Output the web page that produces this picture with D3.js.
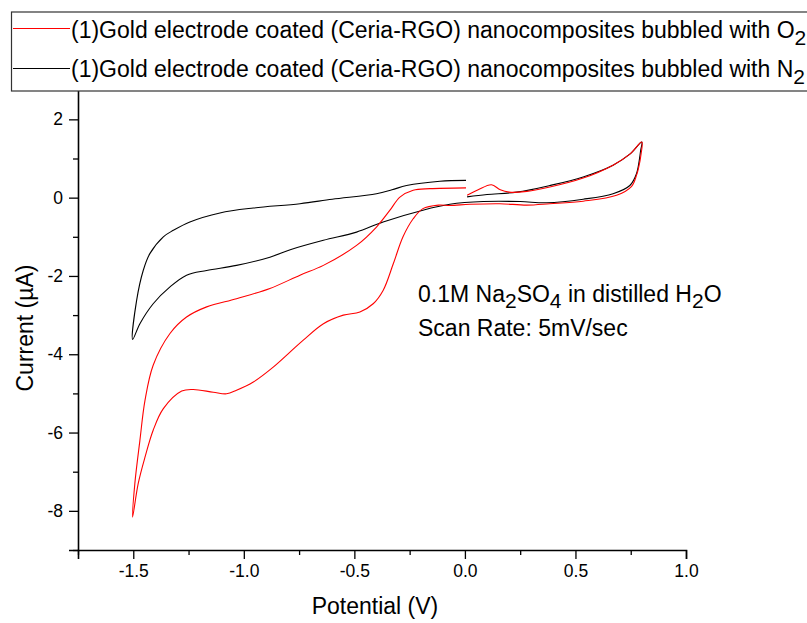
<!DOCTYPE html>
<html>
<head>
<meta charset="utf-8">
<script src="https://cdn.jsdelivr.net/npm/d3@7"></script>
<style>
  html, body { margin: 0; padding: 0; background: #fff; }
  svg { display: block; font-family: "Liberation Sans", Arial, sans-serif; }
</style>
</head>
<body>
<svg id="chart" width="807" height="623"></svg>
<script>
// Cyclic voltammograms, Ceria-RGO coated gold electrode, scan order from ~0 V
// Series bubbled with O2
const o2Potential = [0.01, 0.06, 0.12, 0.16, 0.20, 0.28, 0.384, 0.535, 0.67, 0.746, 0.80,
  0.797, 0.785, 0.776, 0.754, 0.686, 0.535, 0.384, 0.28, 0.158, 0.023, -0.068, -0.12,
  -0.19, -0.234, -0.28, -0.324, -0.37, -0.415, -0.475, -0.55, -0.64, -0.731, -0.79,
  -0.867, -0.957, -1.033, -1.078, -1.138, -1.229, -1.281, -1.364, -1.41, -1.447, -1.478, -1.503,
  -1.493, -1.47, -1.447, -1.41, -1.334, -1.259, -1.168, -1.033, -0.882, -0.746, -0.64,
  -0.49, -0.4, -0.339, -0.294, -0.234, -0.158, 0.005];
const o2Current = [0.06, 0.20, 0.33, 0.20, 0.14, 0.16, 0.27, 0.50, 0.83, 1.11, 1.42,
  1.12, 0.75, 0.57, 0.29, 0.06, -0.09, -0.155, -0.19, -0.155, -0.17, -0.2, -0.19,
  -0.28, -0.54, -1.0, -1.69, -2.37, -2.71, -2.92, -3.0, -3.22, -3.64, -3.94,
  -4.33, -4.71, -4.92, -5.01, -4.97, -4.90, -4.94, -5.39, -5.94, -6.63, -7.31, -8.16,
  -7.31, -6.2, -5.18, -4.28, -3.47, -3.05, -2.79, -2.58, -2.32, -1.98, -1.73,
  -1.22, -0.75, -0.32, 0.015, 0.19, 0.23, 0.25];

// Series bubbled with N2
const n2Potential = [0.01, 0.10, 0.234, 0.384, 0.535, 0.67, 0.746, 0.80,
  0.795, 0.776, 0.746, 0.67, 0.535, 0.37, 0.25, 0.083, -0.068, -0.19, -0.37, -0.49,
  -0.64, -0.79, -0.882, -1.033, -1.168, -1.259, -1.334, -1.41, -1.47, -1.503,
  -1.485, -1.455, -1.425, -1.364, -1.319, -1.244, -1.108, -0.957, -0.746, -0.6,
  -0.4, -0.33, -0.264, -0.113, 0.005];
const n2Current = [0.02, 0.08, 0.14, 0.31, 0.53, 0.83, 1.11, 1.42,
  1.21, 0.61, 0.31, 0.10, -0.04, -0.13, -0.10, -0.10, -0.17, -0.32, -0.62, -0.88,
  -1.09, -1.33, -1.52, -1.73, -1.86, -1.98, -2.28, -2.71, -3.22, -3.62,
  -2.63, -1.86, -1.43, -1.0, -0.835, -0.62, -0.39, -0.265, -0.155, -0.04,
  0.10, 0.20, 0.31, 0.42, 0.44];

const xMajorTicks = [-1.5, -1.0, -0.5, 0.0, 0.5, 1.0];
const xMinorTicks = [-1.75, -1.25, -0.75, -0.25, 0.25, 0.75];
const yMajorTicks = [-8, -6, -4, -2, 0, 2];
const yMinorTicks = [-9, -7, -5, -3, -1, 1, 3];

const seriesNames = ["(1)Gold electrode coated (Ceria-RGO) nanocomposites bubbled with O",
                     "(1)Gold electrode coated (Ceria-RGO) nanocomposites bubbled with N"];
const seriesSubs = ["2", "2"];
const seriesColors = ["#ff0000", "#000000"];

const svg = d3.select("#chart");

const x = d3.scaleLinear().domain([-1.75, 1.0]).range([78, 686]);
const y = d3.scaleLinear().domain([-9, 3]).range([550, 80.2]);

// Axes
const axisG = svg.append("g");
const xAxis = axisG.append("g").attr("transform", "translate(0,550)")
  .call(d3.axisBottom(x).tickValues(xMajorTicks).tickSize(9).tickPadding(6)
        .tickFormat(d => d.toFixed(1)));
const xMinor = axisG.append("g").attr("transform", "translate(0,550)")
  .call(d3.axisBottom(x).tickValues(xMinorTicks).tickSize(5).tickFormat(""));
const yAxis = axisG.append("g").attr("transform", "translate(78,0)")
  .call(d3.axisLeft(y).tickValues(yMajorTicks).tickSize(9).tickPadding(6)
        .tickFormat(d => String(d)));
const yMinor = axisG.append("g").attr("transform", "translate(78,0)")
  .call(d3.axisLeft(y).tickValues(yMinorTicks).tickSize(5).tickFormat(""));

axisG.selectAll(".domain").attr("stroke", "#000").attr("stroke-width", 1.6);
axisG.selectAll(".tick line").attr("stroke", "#000").attr("stroke-width", 1.3);
axisG.selectAll(".tick text").attr("font-size", 17.5).attr("fill", "#000")
  .attr("font-family", "Liberation Sans, Arial, sans-serif");
xMinor.select(".domain").remove();
yMinor.select(".domain").remove();

// Axis titles
svg.append("text")
  .attr("x", 375).attr("y", 614)
  .attr("text-anchor", "middle")
  .attr("font-size", 23)
  .text("Potential (V)");
svg.append("text")
  .attr("transform", "translate(33,328) rotate(-90)")
  .attr("text-anchor", "middle")
  .attr("font-size", 23)
  .text("Current (µA)");

// Curves
const line = d3.line()
  .x(d => x(d[0]))
  .y(d => y(d[1]))
  .curve(d3.curveCatmullRom.alpha(0.5));

const o2Data = o2Potential.map((v, i) => [v, o2Current[i]]);
const n2Data = n2Potential.map((v, i) => [v, n2Current[i]]);

svg.append("path").datum(n2Data)
  .attr("d", line).attr("fill", "none")
  .attr("stroke", seriesColors[1]).attr("stroke-width", 1.1);
svg.append("path").datum(o2Data)
  .attr("d", line).attr("fill", "none")
  .attr("stroke", seriesColors[0]).attr("stroke-width", 1.1);

// Annotation
const note = svg.append("g").attr("font-size", 23).attr("fill", "#000");
const t1 = note.append("text").attr("x", 418).attr("y", 302);
t1.append("tspan").text("0.1M Na");
t1.append("tspan").attr("dy", 6).attr("font-size", 21).text("2");
t1.append("tspan").attr("dy", -6).text("SO");
t1.append("tspan").attr("dy", 6).attr("font-size", 21).text("4");
t1.append("tspan").attr("dy", -6).text(" in distilled H");
t1.append("tspan").attr("dy", 6).attr("font-size", 21).text("2");
t1.append("tspan").attr("dy", -6).text("O");
note.append("text").attr("x", 418).attr("y", 336).text("Scan Rate: 5mV/sec");

// Legend
const legend = svg.append("g");
legend.append("rect")
  .attr("x", 11.5).attr("y", 12).attr("width", 830).attr("height", 79)
  .attr("fill", "#fff").attr("stroke", "#333").attr("stroke-width", 1.2);
const rowY = [28.5, 68.5];
const rowBase = [37.5, 76.5];
seriesNames.forEach((name, i) => {
  legend.append("line")
    .attr("x1", 13).attr("x2", 70).attr("y1", rowY[i]).attr("y2", rowY[i])
    .attr("stroke", seriesColors[i]).attr("stroke-width", 1.2);
  const t = legend.append("text")
    .attr("x", 71).attr("y", rowBase[i])
    .attr("font-size", 23).attr("fill", "#000");
  t.append("tspan").text(name);
  t.append("tspan").attr("dy", 7).attr("font-size", 21).text(seriesSubs[i]);
});
</script>
</body>
</html>
